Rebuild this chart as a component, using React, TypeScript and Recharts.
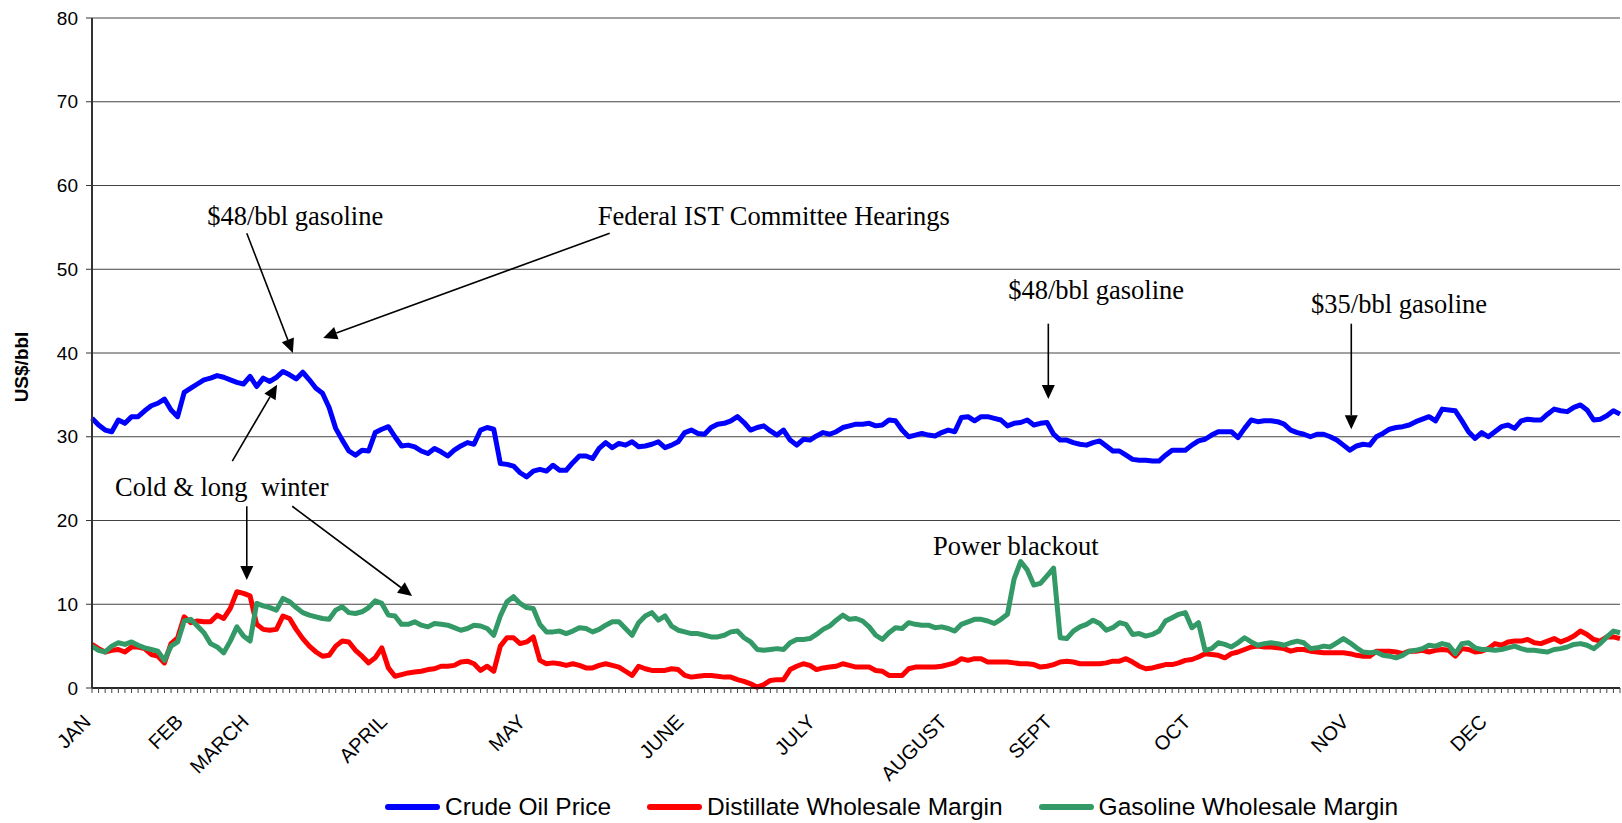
import {
  LineChart,
  Line,
  XAxis,
  YAxis,
  CartesianGrid,
  Legend,
  ReferenceLine,
  ReferenceDot,
} from "recharts";

// Daily values, US$/bbl (trading days, Jan - Dec)
const crude = [
  32.2, 31.4, 30.8, 30.6, 32.0, 31.6, 32.4, 32.4, 33.1, 33.7,
  34.0, 34.5, 33.2, 32.4, 35.3, 35.8, 36.3, 36.8, 37.0, 37.3,
  37.1, 36.8, 36.5, 36.3, 37.2, 36.0, 37.0, 36.6, 37.1, 37.8,
  37.4, 36.9, 37.7, 36.8, 35.8, 35.2, 33.5, 31.0, 29.6, 28.3,
  27.8, 28.4, 28.3, 30.5, 30.9, 31.2, 30.0, 28.9, 29.0, 28.8,
  28.3, 28.0, 28.6, 28.2, 27.7, 28.4, 28.9, 29.3, 29.1, 30.8,
  31.1, 30.9, 26.8, 26.7, 26.5, 25.7, 25.2, 25.9, 26.1, 25.9,
  26.6, 26.0, 26.0, 26.9, 27.7, 27.7, 27.4, 28.6, 29.3, 28.7,
  29.2, 29.0, 29.4, 28.8, 28.9, 29.1, 29.4, 28.7, 29.0, 29.4,
  30.5, 30.8, 30.4, 30.3, 31.1, 31.5, 31.6, 31.9, 32.4, 31.7,
  30.8, 31.1, 31.3, 30.7, 30.2, 30.8, 29.6, 29.0, 29.7, 29.6,
  30.1, 30.5, 30.3, 30.6, 31.1, 31.3, 31.5, 31.5, 31.6, 31.3,
  31.4, 32.0, 31.9, 30.8, 30.0, 30.2, 30.4, 30.2, 30.1, 30.5,
  30.8, 30.6, 32.3, 32.4, 31.9, 32.4, 32.4, 32.2, 32.0, 31.3,
  31.6, 31.7, 32.0, 31.4, 31.6, 31.7, 30.3, 29.6, 29.6, 29.3,
  29.1, 29.0, 29.3, 29.5, 28.9, 28.3, 28.3, 27.8, 27.3, 27.2,
  27.2, 27.1, 27.1, 27.8, 28.4, 28.4, 28.4, 29.0, 29.5, 29.7,
  30.2, 30.6, 30.6, 30.6, 29.9, 31.0, 32.0, 31.8, 31.9, 31.9,
  31.8, 31.5, 30.8, 30.5, 30.3, 30.0, 30.3, 30.3, 30.0, 29.6,
  29.0, 28.4, 28.9, 29.1, 29.0, 30.0, 30.4, 30.9, 31.1, 31.2,
  31.4, 31.8, 32.1, 32.4, 31.9, 33.3, 33.2, 33.1, 31.9, 30.6,
  29.8, 30.5, 30.0, 30.6, 31.2, 31.4, 31.0, 31.9, 32.1, 32.0,
  32.0, 32.7, 33.3, 33.1, 33.0, 33.5, 33.8, 33.2, 32.0, 32.1,
  32.5, 33.1, 32.7,
];

const distillate = [
  5.2, 4.7, 4.3, 4.5, 4.6, 4.3, 4.9, 4.9, 4.7, 4.0,
  3.8, 3.0, 5.3, 6.0, 8.5, 7.8, 8.0, 7.9, 7.9, 8.7,
  8.3, 9.5, 11.5, 11.3, 11.0, 7.6, 7.0, 6.9, 7.0, 8.6,
  8.3, 7.0, 5.9, 5.0, 4.3, 3.8, 3.9, 5.0, 5.6, 5.5,
  4.5, 3.8, 3.0, 3.6, 4.8, 2.4, 1.4, 1.6, 1.8, 1.9,
  2.0, 2.2, 2.3, 2.6, 2.6, 2.7, 3.1, 3.2, 2.9, 2.1,
  2.6, 2.0, 5.0, 6.0, 6.0, 5.3, 5.5, 6.1, 3.3, 2.9,
  3.0, 2.9, 2.7, 2.9, 2.7, 2.4, 2.4, 2.7, 2.9, 2.7,
  2.5, 2.0, 1.5, 2.6, 2.3, 2.1, 2.1, 2.1, 2.3, 2.2,
  1.5, 1.3, 1.4, 1.5, 1.5, 1.4, 1.3, 1.3, 1.0, 0.8,
  0.5, 0.1, 0.4, 0.9, 1.0, 1.0, 2.2, 2.6, 2.9, 2.7,
  2.2, 2.4, 2.5, 2.6, 2.9, 2.7, 2.5, 2.5, 2.5, 2.1,
  2.0, 1.5, 1.5, 1.5, 2.3, 2.5, 2.5, 2.5, 2.5, 2.6,
  2.8, 3.0, 3.5, 3.3, 3.5, 3.5, 3.1, 3.1, 3.1, 3.1,
  3.0, 2.9, 2.9, 2.8, 2.5, 2.6, 2.8, 3.1, 3.2, 3.1,
  2.9, 2.9, 2.9, 2.9, 3.0, 3.2, 3.2, 3.5, 3.1, 2.6,
  2.3, 2.4, 2.6, 2.8, 2.8, 3.0, 3.3, 3.4, 3.7, 4.1,
  4.0, 3.9, 3.6, 4.1, 4.3, 4.6, 4.9, 5.0, 4.9, 4.9,
  4.8, 4.7, 4.4, 4.6, 4.6, 4.4, 4.3, 4.2, 4.2, 4.2,
  4.2, 4.1, 3.9, 3.8, 3.8, 4.4, 4.4, 4.4, 4.3, 4.1,
  4.4, 4.4, 4.5, 4.3, 4.5, 4.6, 4.5, 3.8, 4.7, 4.6,
  4.3, 4.4, 4.7, 5.3, 5.1, 5.5, 5.6, 5.6, 5.8, 5.4,
  5.3, 5.6, 5.9, 5.5, 5.8, 6.2, 6.8, 6.4, 5.8, 5.6,
  6.1, 6.1, 5.9,
];

const gasoline = [
  5.0, 4.5, 4.3, 5.0, 5.4, 5.2, 5.5, 5.1, 4.8, 4.6,
  4.4, 3.3, 5.0, 5.5, 8.0, 8.2, 7.4, 6.6, 5.3, 4.9,
  4.2, 5.6, 7.3, 6.2, 5.6, 10.1, 9.8, 9.6, 9.3, 10.7,
  10.3, 9.6, 9.0, 8.7, 8.5, 8.3, 8.2, 9.3, 9.7, 9.0,
  8.9, 9.1, 9.6, 10.4, 10.1, 8.7, 8.6, 7.6, 7.6, 7.9,
  7.5, 7.3, 7.7, 7.6, 7.5, 7.2, 6.9, 7.1, 7.5, 7.4,
  7.1, 6.3, 8.6, 10.3, 10.9, 10.1, 9.6, 9.5, 7.6, 6.7,
  6.7, 6.8, 6.5, 6.8, 7.2, 7.1, 6.7, 7.0, 7.5, 7.9,
  7.9, 7.1, 6.3, 7.8, 8.6, 9.0, 8.1, 8.6, 7.4, 6.9,
  6.7, 6.5, 6.5, 6.3, 6.1, 6.1, 6.3, 6.7, 6.8, 6.0,
  5.5, 4.6, 4.5, 4.6, 4.7, 4.6, 5.4, 5.8, 5.8, 5.9,
  6.4, 7.0, 7.4, 8.1, 8.7, 8.2, 8.3, 8.0, 7.3, 6.3,
  5.8, 6.6, 7.2, 7.1, 7.8, 7.6, 7.5, 7.5, 7.2, 7.3,
  7.1, 6.8, 7.6, 7.9, 8.2, 8.2, 8.0, 7.7, 8.2, 8.8,
  13.0, 15.1, 14.1, 12.3, 12.5, 13.4, 14.3, 6.0, 5.9, 6.8,
  7.3, 7.6, 8.1, 7.7, 6.9, 7.2, 7.8, 7.6, 6.4, 6.5,
  6.2, 6.4, 6.8, 8.0, 8.4, 8.8, 9.0, 7.2, 7.8, 4.5,
  4.7, 5.4, 5.2, 4.9, 5.4, 6.0, 5.5, 5.1, 5.3, 5.4,
  5.3, 5.1, 5.4, 5.6, 5.4, 4.7, 4.8, 5.0, 4.9, 5.4,
  5.9, 5.4, 4.8, 4.3, 4.2, 4.3, 3.9, 3.8, 3.6, 3.9,
  4.4, 4.5, 4.7, 5.1, 5.0, 5.3, 5.1, 4.1, 5.3, 5.4,
  4.8, 4.6, 4.6, 4.5, 4.6, 4.8, 5.0, 4.7, 4.5, 4.5,
  4.4, 4.3, 4.6, 4.7, 4.9, 5.2, 5.3, 5.1, 4.7, 5.3,
  6.1, 6.8, 6.6,
];

// month labels and the trading day they sit on
const monthNames = ["JAN", "FEB", "MARCH", "APRIL", "MAY", "JUNE", "JULY", "AUGUST", "SEPT", "OCT", "NOV", "DEC"];
const monthDays = [0, 14, 24, 45, 66, 90, 110, 130, 146, 167, 191, 212];

const yTicks = [0, 10, 20, 30, 40, 50, 60, 70, 80];

// annotations, in chart units (day, US$/bbl)
const notes = [
  { text: "$48/bbl gasoline", day: 17.5, value: 55.3 },
  { text: "Federal IST Committee Hearings", day: 76.8, value: 55.3 },
  { text: "Cold & long  winter", day: 3.5, value: 22.9 },
  { text: "Power blackout", day: 127.7, value: 15.9 },
  { text: "$48/bbl gasoline", day: 139.1, value: 46.4 },
  { text: "$35/bbl gasoline", day: 185.1, value: 44.8 },
];

const arrows = [
  { from: { x: 23.5, y: 54.3 }, to: { x: 30.5, y: 40.0 } },
  { from: { x: 78.6, y: 54.3 }, to: { x: 35.1, y: 41.8 } },
  { from: { x: 21.3, y: 27.1 }, to: { x: 28.1, y: 36.2 } },
  { from: { x: 23.5, y: 21.7 }, to: { x: 23.5, y: 12.9 } },
  { from: { x: 30.4, y: 21.7 }, to: { x: 48.6, y: 11.0 } },
  { from: { x: 145.2, y: 43.5 }, to: { x: 145.2, y: 34.5 } },
  { from: { x: 191.2, y: 43.5 }, to: { x: 191.2, y: 30.9 } },
];

const series = [
  { key: "crude", name: "Crude Oil Price", color: "#0000FF" },
  { key: "distillate", name: "Distillate Wholesale Margin", color: "#FF0000" },
  { key: "gasoline", name: "Gasoline Wholesale Margin", color: "#339966" },
];

const FONT = "Arial, 'Liberation Sans', Helvetica, sans-serif";
const SERIF = "'Times New Roman', 'Liberation Serif', serif";

const days = crude.map((_, i) => i);
const data = days.map((i) => ({
  day: i,
  crude: crude[i],
  distillate: distillate[i],
  gasoline: gasoline[i],
}));

const monthAt = new Map(monthDays.map((d, k) => [d, monthNames[k]]));

function MonthTick(props: any) {
  const { x, y, payload } = props;
  const name = monthAt.get(payload.value);
  if (!name) return <g />;
  const ty = y + 28;
  return (
    <text
      x={x}
      y={ty}
      textAnchor="end"
      transform={`rotate(-45, ${x}, ${ty})`}
      fontSize={20}
      fontFamily={FONT}
      fill="#000"
    >
      {name}
    </text>
  );
}

function ArrowShape(props: any) {
  const { x1, y1, x2, y2 } = props;
  if (x1 == null || x2 == null) return <g />;
  const a = Math.atan2(y2 - y1, x2 - x1);
  const len = 14;
  const half = 6.5;
  const bx = x2 - len * Math.cos(a);
  const by = y2 - len * Math.sin(a);
  const px = -Math.sin(a) * half;
  const py = Math.cos(a) * half;
  return (
    <g>
      <line x1={x1} y1={y1} x2={bx} y2={by} stroke="#000" strokeWidth={1.6} />
      <polygon points={`${x2},${y2} ${bx + px},${by + py} ${bx - px},${by - py}`} fill="#000" />
    </g>
  );
}

const noteShape = (text: string) => (p: any) => (
  <text
    x={p.cx}
    y={p.cy}
    fontSize={26.5}
    fontFamily={SERIF}
    fill="#000"
    style={{ whiteSpace: "pre" }}
  >
    {text}
  </text>
);

const renderYTitle = (props: any) => {
  const vb = props.viewBox || { x: 0, y: 18, width: 92, height: 670 };
  const cx = 21;
  const cy = vb.y + vb.height / 2 + 14;
  return (
    <text
      x={cx}
      y={cy}
      transform={`rotate(-90, ${cx}, ${cy})`}
      textAnchor="middle"
      dominantBaseline="central"
      fontSize={19}
      fontWeight="bold"
      fontFamily={FONT}
      fill="#000"
    >
      US$/bbl
    </text>
  );
};

function LegendRow() {
  return (
    <div
      style={{
        display: "flex",
        alignItems: "center",
        height: 30,
        fontFamily: FONT,
        fontSize: 24.5,
        color: "#000",
        whiteSpace: "nowrap",
      }}
    >
      {series.map((s) => (
        <div key={s.key} style={{ display: "flex", alignItems: "center", marginRight: 36 }}>
          <span
            style={{
              display: "inline-block",
              width: 55,
              height: 6,
              borderRadius: 3,
              background: s.color,
            }}
          />
          <span style={{ marginLeft: 5 }}>{s.name}</span>
        </div>
      ))}
    </div>
  );
}

export default function App() {
  return (
    <div style={{ position: "absolute", left: 0, top: 0, width: 1622, height: 823, background: "#fff" }}>
      <LineChart
        width={1622}
        height={823}
        data={data}
        margin={{ top: 18, right: 2, bottom: 0, left: 0 }}
        style={{ fontFamily: FONT }}
      >
        <CartesianGrid horizontal vertical={false} stroke="#444" strokeWidth={1} />
        <XAxis
          dataKey="day"
          type="number"
          domain={[0, days.length - 1]}
          ticks={days}
          interval={0}
          height={135}
          tickSize={5}
          tickLine={{ stroke: "#444" }}
          axisLine={{ stroke: "#000", strokeWidth: 1.5 }}
          tick={<MonthTick />}
        />
        <YAxis
          domain={[0, 80]}
          ticks={yTicks}
          width={92}
          tickSize={6}
          tickMargin={8}
          tickLine={{ stroke: "#333" }}
          axisLine={{ stroke: "#333", strokeWidth: 2 }}
          tick={{ fontSize: 19, fill: "#000", fontFamily: FONT }}
          label={{ value: "US$/bbl", content: renderYTitle }}
        />
        {series.map((s) => (
          <Line
            key={s.key}
            type="linear"
            dataKey={s.key}
            name={s.name}
            stroke={s.color}
            strokeWidth={5}
            strokeLinejoin="round"
            dot={false}
            activeDot={false}
            isAnimationActive={false}
          />
        ))}
        {arrows.map((a, k) => (
          <ReferenceLine key={`arrow-${k}`} segment={[a.from, a.to]} shape={ArrowShape} />
        ))}
        {notes.map((n, k) => (
          <ReferenceDot key={`note-${k}`} x={n.day} y={n.value} shape={noteShape(n.text)} />
        ))}
        <Legend
          layout="horizontal"
          verticalAlign="middle"
          wrapperStyle={{ left: 385, top: 792, width: 1160, height: 30 }}
          content={() => <LegendRow />}
        />
      </LineChart>
    </div>
  );
}
